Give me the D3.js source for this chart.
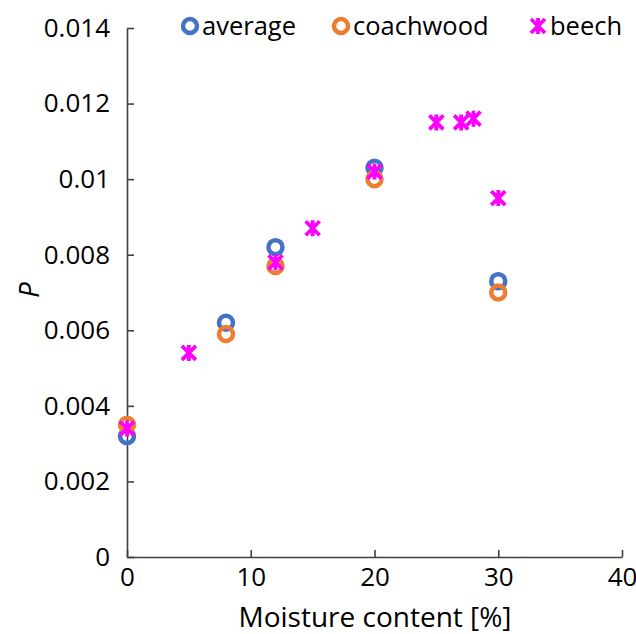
<!DOCTYPE html>
<html>
<head>
<meta charset="utf-8">
<script src="https://cdn.jsdelivr.net/npm/d3@7"></script>
<style>
  html, body { margin: 0; padding: 0; background: #fff; }
  svg { display: block; }
  text { font-family: "Open Sans", sans-serif; fill: #000; }
</style>
</head>
<body>
<svg id="chart" width="636" height="634"></svg>
<script>
// Moisture content [%] vs P
const averageX = [0, 8, 12, 20, 30];
const averageY = [0.0032, 0.0062, 0.0082, 0.0103, 0.0073];
const coachwoodX = [0, 8, 12, 20, 30];
const coachwoodY = [0.0035, 0.0059, 0.0077, 0.0100, 0.0070];
const beechX = [0, 5, 12, 15, 20, 25, 27, 28, 30];
const beechY = [0.0034, 0.0054, 0.0078, 0.0087, 0.0102, 0.0115, 0.0115, 0.0116, 0.0095];
const xTicks = [0, 10, 20, 30, 40];
const yTicks = [0, 0.002, 0.004, 0.006, 0.008, 0.01, 0.012, 0.014];
const yTickLabels = ["0", "0.002", "0.004", "0.006", "0.008", "0.01", "0.012", "0.014"];

const svg = d3.select("#chart");
const plotLeft = 127, plotRight = 622, plotTop = 28, plotBottom = 557;

const x = d3.scaleLinear().domain([0, 40]).range([plotLeft, plotRight]);
const y = d3.scaleLinear().domain([0, 0.014]).range([plotBottom, plotTop]);

const axisColor = "#404040";
const font = "'Open Sans', sans-serif";

// x axis: ticks point upward into the plot
const xAxis = svg.append("g").attr("transform", `translate(0,${plotBottom})`)
  .call(d3.axisBottom(x).tickValues(xTicks).tickSizeInner(-7).tickSizeOuter(0).tickFormat(d3.format("d")).tickPadding(11));
xAxis.select(".domain").attr("stroke", axisColor).attr("stroke-width", 1.6);
xAxis.selectAll(".tick line").attr("stroke", axisColor).attr("stroke-width", 1.6);
xAxis.selectAll(".tick text").attr("font-size", 26).attr("font-family", font).attr("fill", "#000");

// y axis: ticks point right into the plot
const yAxis = svg.append("g").attr("transform", `translate(${plotLeft},0)`)
  .call(d3.axisLeft(y).tickValues(yTicks).tickSizeInner(-7).tickSizeOuter(0)
    .tickFormat((d, i) => yTickLabels[i]).tickPadding(17));
yAxis.select(".domain").attr("stroke", axisColor).attr("stroke-width", 1.6);
yAxis.selectAll(".tick line").attr("stroke", axisColor).attr("stroke-width", 1.6);
yAxis.selectAll(".tick text").attr("font-size", 26).attr("font-family", font).attr("fill", "#000");

// axis titles
svg.append("text").attr("x", 375).attr("y", 627).attr("text-anchor", "middle")
  .attr("font-size", 28).text("Moisture content [%]");
svg.append("text").attr("transform", "translate(39,290) rotate(-90)").attr("text-anchor", "middle")
  .attr("font-size", 28).attr("font-style", "italic").text("P");

const blue = "#4472C4", orange = "#ED7D31", magenta = "#FF00FF";

function ring(g, cx, cy, color) {
  g.append("circle").attr("cx", cx).attr("cy", cy).attr("r", 7)
    .attr("fill", "none").attr("stroke", color).attr("stroke-width", 4.5);
}
function star(g, cx, cy, color) {
  const s = 7;
  g.append("path")
    .attr("d", `M${cx - s},${cy - s}L${cx + s},${cy + s}M${cx - s},${cy + s}L${cx + s},${cy - s}M${cx},${cy - s - 1}L${cx},${cy + s + 1}`)
    .attr("stroke", color).attr("stroke-width", 3.8).attr("fill", "none");
}

const marks = svg.append("g");
averageX.forEach((d, i) => ring(marks, x(d), y(averageY[i]), blue));
coachwoodX.forEach((d, i) => ring(marks, x(d), y(coachwoodY[i]), orange));
beechX.forEach((d, i) => star(marks, x(d), y(beechY[i]), magenta));

// legend
const legend = svg.append("g");
const items = [
  { label: "average", mx: 190, type: "ring", color: blue },
  { label: "coachwood", mx: 341, type: "ring", color: orange },
  { label: "beech", mx: 538, type: "star", color: magenta }
];
items.forEach(it => {
  if (it.type === "ring") ring(legend, it.mx, 26, it.color);
  else star(legend, it.mx, 26, it.color);
  legend.append("text").attr("x", it.mx + 12).attr("y", 35).attr("font-size", 25.5).text(it.label);
});
</script>
</body>
</html>
